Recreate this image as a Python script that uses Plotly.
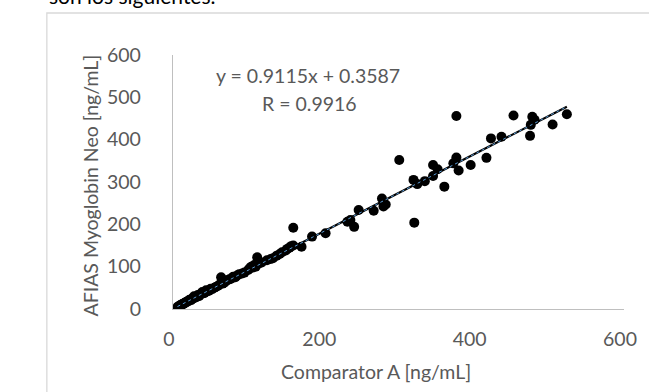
import plotly.graph_objects as go

# ---- data ----
comparator_a = [
    6, 8, 9, 10, 11, 12, 13, 14, 15, 16, 17, 18, 20, 21, 22, 24, 25, 27, 28, 30,
    32, 33, 35, 37, 39, 40, 42, 44, 46, 48, 50, 52, 55, 57, 60, 62, 64, 66, 68, 70,
    72, 75, 78, 80, 83, 86, 88, 92, 95, 100, 102, 104, 106, 108, 110, 112, 115, 118,
    125, 130, 133, 138, 142, 145, 150, 152, 155, 157, 160, 160, 171, 185, 203,
    232, 236, 241, 247, 267, 278, 280, 283,
    301, 320, 321, 325, 335, 346, 346, 352, 361, 373, 377, 377, 380, 396, 417,
    423, 437, 453, 475, 476, 478, 481, 505, 524,
]
afias_neo = [
    5, 7, 8, 9, 10, 11, 12, 12, 14, 14, 16, 17, 18, 20, 22, 21, 24, 25, 30, 27,
    29, 33, 31, 36, 40, 37, 38, 44, 42, 43, 48, 47, 50, 52, 55, 58, 75, 60, 62, 65,
    68, 70, 72, 76, 75, 80, 82, 84, 86, 92, 96, 100, 98, 104, 100, 122, 108, 110,
    115, 118, 120, 126, 130, 134, 138, 142, 145, 148, 150, 192, 147, 171, 179,
    206, 210, 194, 234, 232, 261, 242, 247,
    352, 305, 204, 295, 302, 340, 314, 330, 289, 344, 358, 456, 327, 340, 357,
    403, 407, 457, 409, 435, 454, 447, 436, 460,
]
slope = 0.9115
intercept = 0.3587
equation_text = "y = 0.9115x + 0.3587"
r_text = "R = 0.9916"
x_title = "Comparator A [ng/mL]"
y_title = "AFIAS Myoglobin Neo [ng/mL]"
x_ticks = [0, 200, 400, 600]
y_ticks = [0, 100, 200, 300, 400, 500, 600]
doc_text = "son los siguientes."

# ---- layout geometry (pixels) ----
W, H = 649, 392
PL, PR, PT, PB = 173, 627, 55, 309  # plot area


def px_x(p):
    return (p - PL) / (PR - PL)


def px_y(p):
    return (PB - p) / (PB - PT)


FONT = "Lato"
GRAY = "#595959"
FS = 19.5

trend_x = [min(comparator_a), max(comparator_a)]
trend_y = [slope * v + intercept for v in trend_x]

fig = go.Figure()
fig.add_trace(go.Scatter(
    x=comparator_a, y=afias_neo, mode="markers",
    marker=dict(color="black", size=10, line=dict(width=0)),
    showlegend=False, hoverinfo="skip",
))
fig.add_trace(go.Scatter(
    x=trend_x, y=trend_y, mode="lines",
    line=dict(color="black", width=2.2),
    showlegend=False, hoverinfo="skip",
))
fig.add_trace(go.Scatter(
    x=trend_x, y=trend_y, mode="lines",
    line=dict(color="#5b9bd5", width=1, dash="dot"),
    showlegend=False, hoverinfo="skip",
))

fig.update_layout(
    width=W, height=H,
    margin=dict(l=PL, r=W - PR, t=PT, b=H - PB, pad=0),
    paper_bgcolor="white", plot_bgcolor="white",
    font=dict(family=FONT, size=FS, color=GRAY),
    xaxis=dict(
        range=[0, 600], tickvals=x_ticks, showgrid=False, zeroline=False,
        showline=True, linecolor="#bfbfbf", linewidth=1.3, ticks="",
        ticklabelstandoff=12, ticklabelshift=-4,
        tickfont=dict(family=FONT, size=FS, color=GRAY),
    ),
    yaxis=dict(
        range=[0, 600], tickvals=y_ticks, showgrid=False, zeroline=False,
        showline=True, linecolor="#bfbfbf", linewidth=1.3, ticks="",
        ticklabelstandoff=27,
        tickfont=dict(family=FONT, size=FS, color=GRAY),
    ),
    shapes=[dict(
        type="rect", xref="paper", yref="paper",
        x0=px_x(46), x1=px_x(700), y0=px_y(420), y1=px_y(13),
        line=dict(color="#d9d9d9", width=1.3), fillcolor="rgba(0,0,0,0)",
        layer="below",
    )],
    annotations=[
        dict(text=equation_text, xref="paper", yref="paper",
             x=px_x(309), y=px_y(76), xanchor="center", yanchor="middle",
             showarrow=False, font=dict(family=FONT, size=FS, color=GRAY)),
        dict(text=r_text, xref="paper", yref="paper",
             x=px_x(310), y=px_y(103), xanchor="center", yanchor="middle",
             showarrow=False, font=dict(family=FONT, size=FS, color=GRAY)),
        dict(text=x_title, xref="paper", yref="paper",
             x=px_x(377), y=px_y(371), xanchor="center", yanchor="middle",
             showarrow=False, font=dict(family=FONT, size=FS, color=GRAY)),
        dict(text=y_title, xref="paper", yref="paper", textangle=-90,
             x=px_x(89), y=px_y(186), xanchor="center", yanchor="middle",
             showarrow=False, font=dict(family=FONT, size=FS, color=GRAY)),
        dict(text=doc_text, xref="paper", yref="paper",
             x=px_x(46), y=px_y(10), xanchor="left", yanchor="bottom",
             showarrow=False, font=dict(family=FONT, size=21, color="black")),
    ],
)

fig.write_html(
    "out.html",
    config={"displayModeBar": False},
    post_script="document.body.style.margin='0px';",
)
